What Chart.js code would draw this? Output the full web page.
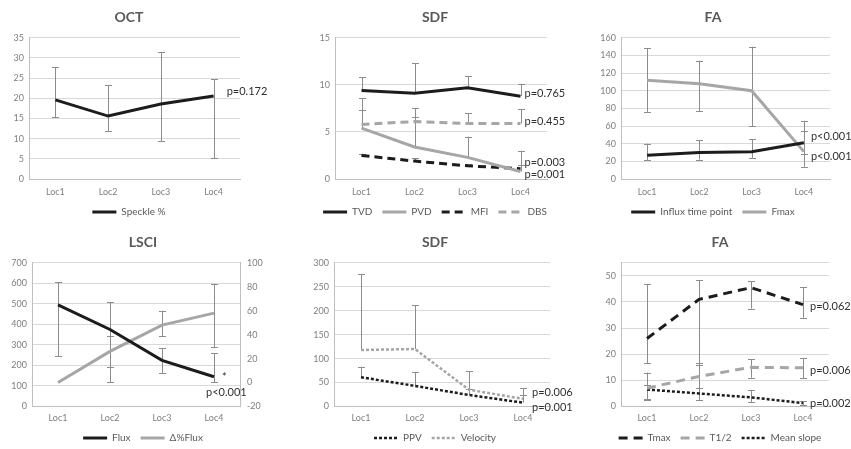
<!DOCTYPE html>
<html>
<head>
<meta charset="utf-8">
<script src="https://cdn.jsdelivr.net/npm/chart.js@4.4.1/dist/chart.umd.min.js"></script>
<style>
body { margin: 0; background: #fff; overflow: hidden; }
#wrap { position: relative; width: 851px; height: 449px; overflow: hidden; }
canvas { position: absolute; }
</style>
</head>
<body>
<div id="wrap">
  <canvas id="g1" width="283" height="227" style="left:0;top:0"></canvas>
  <canvas id="g2" width="284" height="227" style="left:285px;top:0"></canvas>
  <canvas id="g3" width="286" height="227" style="left:565px;top:0"></canvas>
  <canvas id="g4" width="283" height="228" style="left:0;top:225px"></canvas>
  <canvas id="g5" width="290" height="228" style="left:285px;top:225px"></canvas>
  <canvas id="g6" width="286" height="228" style="left:565px;top:225px"></canvas>
</div>
<script>
// categorias
var locs = ["Loc1", "Loc2", "Loc3", "Loc4"];

// OCT
var speckle = [19.6, 15.6, 18.6, 20.6];
var speckleErr = [[15.3, 27.8], [11.9, 23.2], [9.3, 31.5], [5.1, 24.7]];
var octEixo = [0, 35, 5];
var octP = ["p=0.172"];

// SDF (cima)
var tvd = [9.4, 9.1, 9.7, 8.8];
var tvdErr = [[9.4, 10.8], [9.1, 12.3], [9.7, 10.9], [8.8, 10.1]];
var pvd = [5.4, 3.4, 2.3, 0.8];
var pvdErr = [[5.4, 8.6], [3.4, 6.6], [2.3, 4.5], [0.8, 3.0]];
var mfi = [2.5, 1.9, 1.4, 1.1];
var mfiErr = [[2.5, 2.7], [1.9, 2.2], [1.4, 1.6], [1.1, 1.5]];
var dbs = [5.8, 6.1, 5.9, 5.9];
var dbsErr = [[5.8, 7.3], [6.1, 7.5], [5.9, 7.0], [5.9, 7.4]];
var sdfEixo = [0, 15, 5];
var sdfP = ["p=0.765", "p=0.455", "p=0.003", "p=0.001"];

// FA (cima)
var influx = [27, 30, 31, 41];
var influxErr = [[21, 40], [22, 44], [24, 45], [28, 54]];
var fmax = [112, 108, 100, 31];
var fmaxErr = [[76, 148], [77, 134], [60, 150], [14, 66]];
var faEixo = [0, 160, 20];
var faP = ["p<0.001", "p<0.001"];

// LSCI
var flux = [495, 375, 225, 145];
var fluxErr = [[245, 605], [117, 509], [161, 284], [117, 259]];
var deltaFlux = [0, 26, 48, 58];
var deltaErr = [null, [13, 39], [39, 60], [29.5, 82]];
var lsciEixo = [0, 700, 100];
var lsciEixo2 = [-20, 100, 20];
var lsciP = ["*", "p<0.001"];

// SDF (baixo)
var ppv = [61, 43, 24, 8];
var ppvErr = [[61, 83], [43, 72], [24, 37], [8, 23]];
var velocity = [118, 120, 35, 16];
var velocityErr = [[118, 277], [120, 212], [35, 74], [16, 38]];
var sdf2Eixo = [0, 300, 50];
var sdf2P = ["p=0.006", "p=0.001"];

// FA (baixo)
var tmax = [26, 41, 45.5, 39];
var tmaxErr = [[16.5, 46.7], [16, 48.3], [37.5, 48], [34, 45.6]];
var tMeio = [7, 11.5, 15, 14.8];
var tMeioErr = [[2.5, 13], [7, 16.8], [11, 18], [10.8, 18.6]];
var slope = [6.5, 5, 3.5, 1.3];
var slopeErr = [[2.8, 8.3], [2.3, 7], [1.7, 6.4], [0.4, 2.0]];
var fa2Eixo = [0, 55, 10];
var fa2P = ["p=0.062", "p=0.006", "p=0.002"];

var preto = "#1c1c1c";
var cinza = "#a6a6a6";
var grade = "#d9d9d9";
var eixo = "#bfbfbf";
var txt = "#7f7f7f";
var fonte = "Lato, 'Open Sans', sans-serif";

Chart.defaults.font.family = fonte;

// barras de erro + textos de p
var extras = {
  id: "extras",
  beforeDatasetsDraw(chart) {
    var ctx = chart.ctx;
    chart.data.datasets.forEach((ds, i) => {
      if (!ds.err) return;
      var meta = chart.getDatasetMeta(i);
      var ys = chart.scales[meta.yAxisID];
      ctx.save();
      ctx.strokeStyle = "#8c8c8c";
      ctx.lineWidth = 1;
      ds.err.forEach((e, j) => {
        if (!e) return;
        var x = Math.round(meta.data[j].x) + 0.5;
        var a = ys.getPixelForValue(e[0]);
        var b = ys.getPixelForValue(e[1]);
        ctx.beginPath();
        ctx.moveTo(x, a);
        ctx.lineTo(x, b);
        if (e[0] != ds.data[j]) {
          ctx.moveTo(x - 3.5, Math.round(a) + 0.5);
          ctx.lineTo(x + 3.5, Math.round(a) + 0.5);
        }
        if (e[1] != ds.data[j]) {
          ctx.moveTo(x - 3.5, Math.round(b) + 0.5);
          ctx.lineTo(x + 3.5, Math.round(b) + 0.5);
        }
        ctx.stroke();
      });
      ctx.restore();
    });
  },
  afterDraw(chart) {
    var lista = chart.options.plugins.extras.labels || [];
    var ctx = chart.ctx;
    ctx.save();
    ctx.fillStyle = "#303030";
    ctx.font = "11px " + fonte;
    ctx.textBaseline = "middle";
    ctx.textAlign = "left";
    lista.forEach((p) => {
      var meta = chart.getDatasetMeta(p.ds);
      var pt = meta.data[3];
      ctx.fillText(p.text, pt.x + p.dx, pt.y + p.dy);
    });
    ctx.restore();
  },
};

function eixoY(faixa, geo, pos) {
  return {
    position: pos,
    min: faixa[0],
    max: faixa[1],
    grid: { display: pos == "left", color: grade, drawTicks: false },
    border: { color: eixo },
    ticks: {
      stepSize: faixa[2],
      color: txt,
      font: { size: 9 },
      padding: pos == "left" ? 5 : 7,
      callback: (v) => ((v - faixa[0]) % faixa[2] == 0 ? v : ""),
    },
    afterFit(s) {
      s.width = pos == "left" ? geo.yW : geo.rW;
    },
  };
}

function linha(label, dados, err, cor, dash, eixoId) {
  return {
    label: label,
    data: dados,
    err: err,
    borderColor: cor,
    backgroundColor: cor,
    borderWidth: dash && dash[0] < 4 ? 2.5 : 3,
    borderDash: dash || [],
    pointRadius: 0,
    tension: 0,
    yAxisID: eixoId || "y",
  };
}

// amostra da legenda com o mesmo traço da série
function legendaItens(chart) {
  var itens = Chart.defaults.plugins.legend.labels.generateLabels(chart);
  itens.forEach((it) => {
    var ds = chart.data.datasets[it.datasetIndex];
    it.lineDash = ds.borderDash;
    it.lineWidth = ds.borderWidth;
    it.strokeStyle = ds.borderColor;
    it.fillStyle = ds.borderColor;
  });
  return itens;
}

function plotarPainel(id, titulo, datasets, faixa, geo, pLabels, faixa2) {
  var scales = {
    x: {
      offset: true,
      grid: { display: false, drawTicks: false },
      border: { color: eixo },
      ticks: { color: txt, font: { size: 9 }, padding: geo.xP },
      afterFit(s) {
        s.height = geo.xH;
      },
    },
    y: eixoY(faixa, geo, "left"),
  };
  if (faixa2) {
    scales.y1 = eixoY(faixa2, geo, "right");
  } else {
    scales.yPad = {
      position: "right",
      display: true,
      grid: { display: false },
      border: { display: false },
      ticks: { display: false },
      afterFit(s) {
        s.width = geo.rW;
      },
    };
  }
  const config = {
    type: "line",
    data: { labels: locs, datasets: datasets },
    options: {
      responsive: false,
      animation: false,
      layout: { padding: { left: geo.padL, right: geo.padR, top: 0, bottom: 0 } },
      scales: scales,
      plugins: {
        title: {
          display: true,
          text: titulo,
          color: "#595959",
          font: { size: 14, weight: "bold" },
          padding: { top: 9, bottom: 12 },
        },
        legend: {
          position: "bottom",
          labels: {
            color: "#595959",
            font: { size: 10 },
            usePointStyle: true,
            pointStyle: "line",
            pointStyleWidth: 24,
            boxHeight: 10,
            padding: 10,
            generateLabels: legendaItens,
          },
        },
        tooltip: { enabled: false },
        extras: { labels: pLabels },
      },
    },
    plugins: [extras],
  };
  return new Chart(document.getElementById(id), config);
}

plotarPainel(
  "g1", "OCT",
  [linha("Speckle %", speckle, speckleErr, preto)],
  octEixo,
  { padL: 0, padR: 25, yW: 29, rW: 18, xH: 18, xP: 8 },
  [{ text: octP[0], ds: 0, dx: 13, dy: -4 }]
);

plotarPainel(
  "g2", "SDF",
  [
    linha("TVD", tvd, tvdErr, preto),
    linha("PVD", pvd, pvdErr, cinza),
    linha("MFI", mfi, mfiErr, preto, [8, 5]),
    linha("DBS", dbs, dbsErr, cinza, [8, 5]),
  ],
  sdfEixo,
  { padL: 20, padR: 4, yW: 30, rW: 18, xH: 18, xP: 8 },
  [
    { text: sdfP[0], ds: 0, dx: 4, dy: -3 },
    { text: sdfP[1], ds: 3, dx: 4, dy: -2 },
    { text: sdfP[2], ds: 2, dx: 4, dy: -6 },
    { text: sdfP[3], ds: 1, dx: 4, dy: 3 },
  ]
);

plotarPainel(
  "g3", "FA",
  [
    linha("Influx time point", influx, influxErr, preto),
    linha("Fmax", fmax, fmaxErr, cinza),
  ],
  faEixo,
  { padL: 10, padR: 0, yW: 46, rW: 21, xH: 18, xP: 8 },
  [
    { text: faP[0], ds: 0, dx: 7, dy: -6 },
    { text: faP[1], ds: 1, dx: 7, dy: 5 },
  ]
);

plotarPainel(
  "g4", "LSCI",
  [
    linha("Flux", flux, fluxErr, preto),
    linha("Δ%Flux", deltaFlux, deltaErr, cinza, null, "y1"),
  ],
  lsciEixo,
  { padL: 3, padR: 0, yW: 29, rW: 43, xH: 16.5, xP: 6 },
  [
    { text: lsciP[0], ds: 0, dx: 8, dy: 1 },
    { text: lsciP[1], ds: 0, dx: -8, dy: 16 },
  ],
  lsciEixo2
);

plotarPainel(
  "g5", "SDF",
  [
    linha("PPV", ppv, ppvErr, preto, [3, 2]),
    linha("Velocity", velocity, velocityErr, cinza, [3, 2]),
  ],
  sdf2Eixo,
  { padL: 20, padR: 10, yW: 29, rW: 15, xH: 16.5, xP: 6 },
  [
    { text: sdf2P[0], ds: 1, dx: 9, dy: -6 },
    { text: sdf2P[1], ds: 0, dx: 9, dy: 5 },
  ]
);

plotarPainel(
  "g6", "FA",
  [
    linha("Tmax", tmax, tmaxErr, preto, [9, 6]),
    linha("T1/2", tMeio, tMeioErr, cinza, [9, 6]),
    linha("Mean slope", slope, slopeErr, preto, [3, 2]),
  ],
  fa2Eixo,
  { padL: 24, padR: 0, yW: 32, rW: 22, xH: 16.5, xP: 6 },
  [
    { text: fa2P[0], ds: 0, dx: 7, dy: 2 },
    { text: fa2P[1], ds: 1, dx: 7, dy: 3 },
    { text: fa2P[2], ds: 2, dx: 7, dy: 0 },
  ]
);
</script>
</body>
</html>
